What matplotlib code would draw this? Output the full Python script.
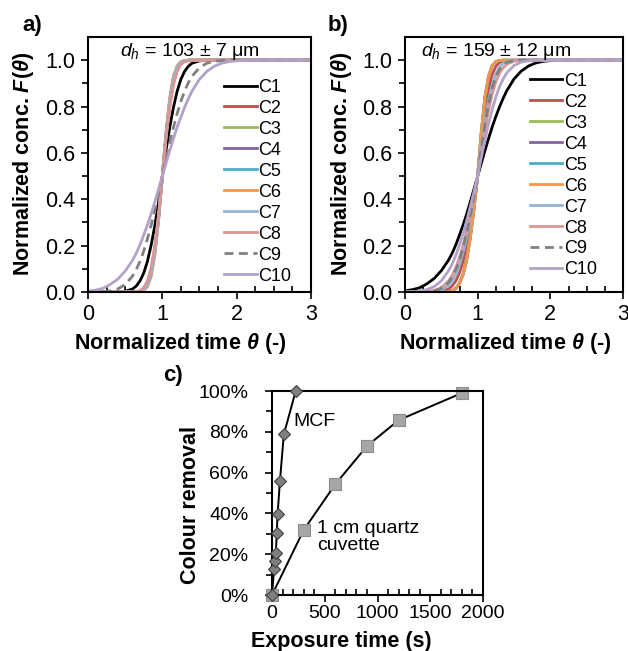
#!/usr/bin/env python3
'''
Normalized RTD curves for two hydraulic diameters (a, b) and
colour removal against exposure time (c).
'''
import matplotlib as mplt
mplt.use('Agg')
import matplotlib.pyplot as plt
from matplotlib.ticker import MultipleLocator, FixedLocator, FuncFormatter

mplt.rc('font', **{'family': 'sans-serif', 'sans-serif': ['Liberation Sans']})
mplt.rc('mathtext', fontset='custom', rm='Liberation Sans', it='Liberation Sans:italic',
        bf='Liberation Sans:bold', bfit='Liberation Sans:italic:bold')

# normalized time grid the curves were read on
theta = [0, 0.1, 0.2, 0.3, 0.4, 0.5, 0.6, 0.65, 0.7, 0.75, 0.8, 0.85, 0.9, 0.95, 1.0,
         1.05, 1.1, 1.15, 1.2, 1.25, 1.3, 1.35, 1.4, 1.5, 1.6, 1.7, 1.8, 1.9, 2.0, 2.2, 2.5, 3.0]

names = ['C1', 'C2', 'C3', 'C4', 'C5', 'C6', 'C7', 'C8', 'C9', 'C10']

# panel a, d_h = 103 um
a_c1 = [0, 0, 0, 0, 0, 0.003, 0.013, 0.026, 0.048, 0.082, 0.133, 0.203, 0.288, 0.39, 0.5,
        0.61, 0.712, 0.797, 0.867, 0.918, 0.952, 0.974, 0.987, 0.997, 1, 1, 1, 1, 1, 1, 1, 1]
a_c2 = [0, 0, 0, 0, 0, 0, 0, 0.001, 0.005, 0.015, 0.041, 0.097, 0.192, 0.332, 0.5,
        0.668, 0.808, 0.903, 0.959, 0.985, 0.995, 0.999, 1, 1, 1, 1, 1, 1, 1, 1, 1, 1]
a_c3 = [0, 0, 0, 0, 0, 0, 0, 0.001, 0.003, 0.012, 0.034, 0.087, 0.181, 0.325, 0.5,
        0.675, 0.819, 0.913, 0.966, 0.988, 0.997, 0.999, 1, 1, 1, 1, 1, 1, 1, 1, 1, 1]
a_c4 = [0, 0, 0, 0, 0, 0, 0, 0, 0.002, 0.009, 0.029, 0.076, 0.171, 0.317, 0.5,
        0.683, 0.829, 0.924, 0.971, 0.991, 0.998, 1, 1, 1, 1, 1, 1, 1, 1, 1, 1, 1]
a_c5 = [0, 0, 0, 0, 0, 0, 0, 0, 0.002, 0.009, 0.03, 0.078, 0.173, 0.319, 0.5,
        0.681, 0.827, 0.922, 0.97, 0.99, 0.998, 1, 1, 1, 1, 1, 1, 1, 1, 1, 1, 1]
a_c6 = [0, 0, 0, 0, 0, 0, 0, 0, 0.001, 0.006, 0.023, 0.067, 0.159, 0.309, 0.5,
        0.691, 0.841, 0.933, 0.977, 0.994, 0.999, 1, 1, 1, 1, 1, 1, 1, 1, 1, 1, 1]
a_c7 = [0, 0, 0, 0, 0, 0, 0, 0, 0.002, 0.009, 0.029, 0.076, 0.171, 0.317, 0.5,
        0.683, 0.829, 0.924, 0.971, 0.991, 0.998, 1, 1, 1, 1, 1, 1, 1, 1, 1, 1, 1]
a_c8 = [0, 0, 0, 0, 0, 0, 0, 0.002, 0.006, 0.019, 0.048, 0.106, 0.203, 0.338, 0.5,
        0.662, 0.797, 0.894, 0.952, 0.981, 0.994, 0.998, 1, 1, 1, 1, 1, 1, 1, 1, 1, 1]
a_c9 = [0, 0.001, 0.002, 0.005, 0.013, 0.032, 0.069, 0.097, 0.133, 0.177, 0.23, 0.289, 0.356, 0.427, 0.5,
        0.573, 0.644, 0.711, 0.77, 0.823, 0.867, 0.903, 0.931, 0.968, 0.987, 0.995, 0.998, 1, 1, 1, 1, 1]
a_c10 = [0.004, 0.008, 0.016, 0.033, 0.055, 0.09, 0.137, 0.168, 0.204, 0.246, 0.289, 0.338, 0.39, 0.445, 0.5,
         0.555, 0.61, 0.662, 0.712, 0.755, 0.797, 0.834, 0.867, 0.918, 0.952, 0.974, 0.987, 0.994, 0.997, 1, 1, 1]

# panel b, d_h = 159 um
b_c1 = [0.005, 0.01, 0.018, 0.035, 0.058, 0.092, 0.138, 0.168, 0.204, 0.246, 0.289, 0.338, 0.39, 0.445, 0.5,
        0.555, 0.61, 0.662, 0.712, 0.757, 0.798, 0.835, 0.868, 0.919, 0.953, 0.975, 0.988, 0.995, 0.998, 1, 1, 1]
b_c2 = [0, 0, 0, 0, 0, 0.003, 0.013, 0.026, 0.048, 0.082, 0.133, 0.203, 0.288, 0.39, 0.5,
        0.65, 0.779, 0.875, 0.938, 0.973, 0.99, 0.996, 0.999, 1, 1, 1, 1, 1, 1, 1, 1, 1]
b_c3 = [0, 0, 0, 0, 0, 0, 0.002, 0.006, 0.017, 0.039, 0.08, 0.147, 0.243, 0.365, 0.5,
        0.686, 0.836, 0.93, 0.975, 0.993, 0.998, 1, 1, 1, 1, 1, 1, 1, 1, 1, 1, 1]
b_c4 = [0, 0, 0, 0, 0, 0, 0.002, 0.005, 0.015, 0.036, 0.075, 0.14, 0.236, 0.358, 0.5,
        0.69, 0.84, 0.932, 0.977, 0.994, 0.999, 1, 1, 1, 1, 1, 1, 1, 1, 1, 1, 1]
b_c5 = [0, 0, 0, 0, 0, 0, 0.002, 0.006, 0.016, 0.038, 0.078, 0.144, 0.24, 0.362, 0.5,
        0.688, 0.838, 0.931, 0.976, 0.993, 0.999, 1, 1, 1, 1, 1, 1, 1, 1, 1, 1, 1]
b_c6 = [0, 0, 0, 0, 0, 0, 0.002, 0.006, 0.016, 0.037, 0.076, 0.142, 0.238, 0.36, 0.5,
        0.691, 0.841, 0.933, 0.977, 0.994, 0.999, 1, 1, 1, 1, 1, 1, 1, 1, 1, 1, 1]
b_c7 = [0, 0, 0, 0, 0.002, 0.009, 0.029, 0.048, 0.076, 0.117, 0.171, 0.238, 0.317, 0.406, 0.5,
        0.623, 0.734, 0.826, 0.894, 0.941, 0.97, 0.986, 0.994, 0.999, 1, 1, 1, 1, 1, 1, 1, 1]
b_c8 = [0, 0, 0, 0.002, 0.006, 0.019, 0.048, 0.072, 0.106, 0.149, 0.203, 0.266, 0.338, 0.417, 0.5,
        0.604, 0.7, 0.785, 0.853, 0.906, 0.943, 0.967, 0.982, 0.996, 0.999, 1, 1, 1, 1, 1, 1, 1]
b_c9 = [0, 0, 0, 0.001, 0.005, 0.015, 0.041, 0.064, 0.097, 0.138, 0.192, 0.258, 0.332, 0.414, 0.5,
        0.616, 0.722, 0.811, 0.881, 0.929, 0.961, 0.98, 0.991, 0.998, 1, 1, 1, 1, 1, 1, 1, 1]
b_c10 = [0, 0.001, 0.004, 0.01, 0.023, 0.048, 0.092, 0.121, 0.159, 0.203, 0.252, 0.309, 0.37, 0.434, 0.5,
         0.579, 0.655, 0.726, 0.788, 0.841, 0.885, 0.919, 0.945, 0.977, 0.992, 0.997, 1, 1, 1, 1, 1, 1]

# panel c, colour removal
mcf_time = [0, 20, 30, 37, 45, 53, 75, 112, 225]
mcf_removal = [0, 0.128, 0.165, 0.207, 0.304, 0.396, 0.557, 0.787, 1.0]
cuvette_time = [0, 300, 600, 900, 1200, 1800]
cuvette_removal = [0, 0.318, 0.543, 0.73, 0.857, 0.99]

colours = ['#000000', '#C0504D', '#9BBB59', '#8064A2', '#4BACC6',
           '#F79646', '#95B3D7', '#D99694', '#808080', '#B3A2C7']

W, H = 628., 651.
lab_size = 15.5


def px_axes(fig, left, top, right, bottom):
    return fig.add_axes([left / W, 1 - bottom / H, (right - left) / W, (bottom - top) / H])


def style_frame(ax, tick_size, xpad):
    for sp in ax.spines.values():
        sp.set_linewidth(1.5)
    ax.tick_params('x', which='major', direction='out', length=5, width=1.2, labelsize=tick_size, pad=xpad)
    ax.tick_params('x', which='minor', direction='in', length=4, width=1.2)
    ax.tick_params('y', which='major', direction='out', length=5, width=1.2, labelsize=tick_size, pad=4)
    ax.tick_params('y', which='minor', direction='out', length=4, width=1.2)


def draw_rtd(ax, l_curves, leg_anchor):
    for name, vals, col in zip(names, l_curves, colours):
        ls = (0, (3.2, 2.0)) if name == 'C9' else '-'
        ax.plot(theta, vals, color=col, lw=2.0, ls=ls, label=name)
    ax.set_xlim(0, 3)
    ax.set_ylim(0, 1.1)
    ax.set_xticks([0, 1, 2, 3])
    ax.set_yticks([0, 0.2, 0.4, 0.6, 0.8, 1.0])
    ax.yaxis.set_major_formatter(FuncFormatter(lambda v, p: '{0:.1f}'.format(v)))
    ax.xaxis.set_minor_locator(MultipleLocator(0.25))
    ax.yaxis.set_minor_locator(FixedLocator([0.1, 0.3, 0.5, 0.7, 0.9]))
    style_frame(ax, 15.5, 4)
    ax.legend(loc='upper left', bbox_to_anchor=leg_anchor, frameon=False, prop={'size': 13},
              handlelength=1.8, handletextpad=0.1, labelspacing=0.22, borderpad=0, borderaxespad=0)


def main():
    fig = plt.figure(figsize=(W / 100, H / 100), dpi=100)

    ax_a = px_axes(fig, 88, 37, 311, 292)
    draw_rtd(ax_a, [a_c1, a_c2, a_c3, a_c4, a_c5, a_c6, a_c7, a_c8, a_c9, a_c10], (0.61, 0.836))
    ax_b = px_axes(fig, 405, 37, 623, 292)
    draw_rtd(ax_b, [b_c1, b_c2, b_c3, b_c4, b_c5, b_c6, b_c7, b_c8, b_c9, b_c10], (0.573, 0.86))

    ylab = r'Normalized conc. $\mathbfit{F}$($\mathbfit{\theta}$)'
    xlab = r'Normalized time $\mathbfit{\theta}$ (-)'
    for x_ylab, x_xlab, x_dh, dh_txt, x_pl, pl in [(24, 180, 190, '$d_h$ = 103 \u00b1 7 \u03bcm', 32, 'a)'),
                                                   (342, 505, 496, '$d_h$ = 159 \u00b1 12 \u03bcm', 338, 'b)')]:
        fig.text(x_ylab / W, 1 - 164 / H, ylab, rotation=90, ha='center', va='center', size=lab_size, weight='bold')
        fig.text(x_xlab / W, 1 - 343 / H, xlab, ha='center', va='center', size=lab_size, weight='bold')
        fig.text(x_dh / W, 1 - 52 / H, dh_txt, ha='center', va='center', size=14)
        fig.text(x_pl / W, 1 - 25 / H, pl, ha='center', va='center', size=16, weight='bold')

    # panel c
    ax_c = px_axes(fig, 272, 391, 483, 595)
    ax_c.plot(mcf_time, mcf_removal, color='k', lw=1.4, marker='D', ms=6.5,
              mfc='#7F7F7F', mec='#404040', mew=0.8, zorder=3, clip_on=False)
    ax_c.plot(cuvette_time, cuvette_removal, color='k', lw=1.4, marker='s', ms=8.5,
              mfc='#A6A6A6', mec='#8C8C8C', mew=0.8, zorder=2, clip_on=False)
    ax_c.set_xlim(0, 2000)
    ax_c.set_ylim(0, 1)
    ax_c.set_xticks([0, 500, 1000, 1500, 2000])
    ax_c.set_yticks([0, 0.2, 0.4, 0.6, 0.8, 1.0])
    ax_c.yaxis.set_major_formatter(FuncFormatter(lambda v, p: '{0:.0f}%'.format(v * 100)))
    ax_c.xaxis.set_minor_locator(MultipleLocator(100))
    ax_c.yaxis.set_minor_locator(FixedLocator([0.1, 0.3, 0.5, 0.7, 0.9]))
    style_frame(ax_c, 14, 2.5)
    ax_c.tick_params('y', which='major', pad=12)

    fig.text(190 / W, 1 - 505 / H, 'Colour removal', rotation=90, ha='center', va='center', size=lab_size, weight='bold')
    fig.text(341 / W, 1 - 641 / H, 'Exposure time (s)', ha='center', va='center', size=lab_size, weight='bold')
    fig.text(173 / W, 1 - 376 / H, 'c)', ha='center', va='center', size=16, weight='bold')
    ax_c.text(200, 0.85, 'MCF', size=14, ha='left', va='center')
    ax_c.text(430, 0.285, '1 cm quartz\ncuvette', size=14, ha='left', va='center', linespacing=1.0)

    fig.savefig('out.png', dpi=100)


if __name__ == '__main__':
    main()
